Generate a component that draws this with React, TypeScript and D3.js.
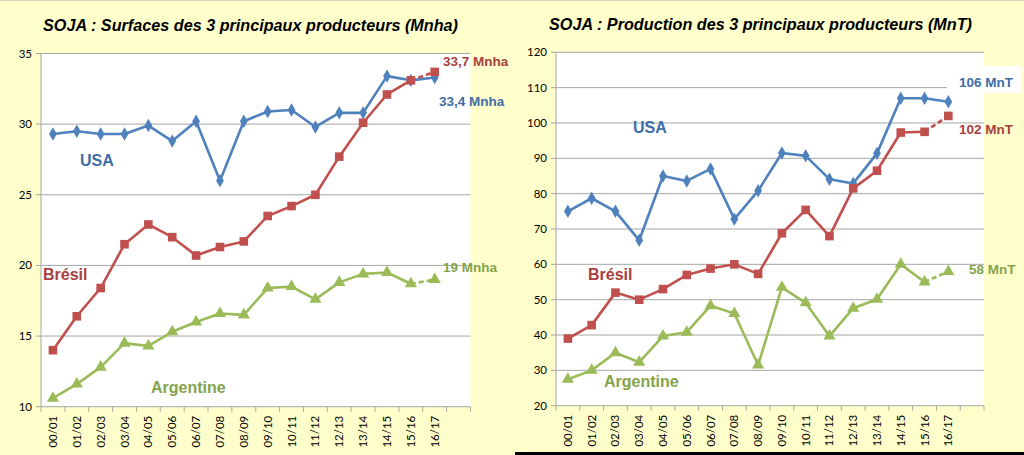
import React from "react";
import * as d3 from "d3";

const categories = ["00/01","01/02","02/03","03/04","04/05","05/06","06/07","07/08","08/09","09/10","10/11","11/12","12/13","13/14","14/15","15/16","16/17"];

const surfUSA = [29.3,29.5,29.3,29.3,29.9,28.8,30.2,26.0,30.2,30.9,31.0,29.8,30.8,30.8,33.4,33.1,33.3];
const surfBresil = [14.0,16.4,18.4,21.5,22.9,22.0,20.7,21.3,21.7,23.5,24.2,25.0,27.7,30.1,32.1,33.1,33.7];
const surfArgentine = [10.6,11.6,12.8,14.5,14.3,15.3,16.0,16.6,16.5,18.4,18.5,17.6,18.8,19.4,19.5,18.7,19.0];

const prodUSA = [75.0,78.7,75.0,66.8,85.0,83.6,87.0,72.8,80.8,91.5,90.7,84.1,82.9,91.4,107.0,107.0,106.0];
const prodBresil = [39.0,42.8,52.0,50.0,53.0,57.0,58.8,60.0,57.3,68.8,75.4,68.0,81.5,86.5,97.3,97.5,102.0];
const prodArgentine = [27.5,30.0,35.0,32.3,39.7,40.8,48.3,46.1,31.5,53.5,49.1,39.7,47.6,50.1,60.0,55.0,58.0];

const surfTicks = [10,15,20,25,30,35];
const prodTicks = [20,30,40,50,60,70,80,90,100,110,120];

const BLUE = "#4F81BD";
const RED = "#C0504D";
const GREEN = "#9BBB59";
const BLUE_T = "#3E6DA6";
const RED_T = "#A8403E";
const GREEN_T = "#85A34B";
const BG = "#FFFFCC";

type Label = { text: string; x: number; y: number; color: string; size: number };

type PanelProps = {
  title: string;
  titleX: number;
  titleY: number;
  x0: number;
  x1: number;
  y0: number;
  y1: number;
  domain: [number, number];
  ticks: number[];
  usa: number[];
  bresil: number[];
  argentine: number[];
  labels: Label[];
  box?: { x: number; y: number; w: number; h: number };
};

const SLOTS = 18;

function Panel(p: PanelProps) {
  const xb = d3.scaleBand<number>().domain(d3.range(SLOTS)).range([p.x0, p.x1]).paddingInner(0).paddingOuter(0);
  const bw = xb.bandwidth();
  const px = (i: number) => (xb(i) as number) + bw / 2;
  const y = d3.scaleLinear().domain(p.domain).range([p.y1, p.y0]);
  const line = d3.line<number>().x((_, i) => px(i)).y((v) => y(v));

  const series = [
    { data: p.usa, color: BLUE, sym: d3.symbolDiamond, size: 52, dashLast: false },
    { data: p.bresil, color: RED, sym: d3.symbolSquare, size: 74, dashLast: true },
    { data: p.argentine, color: GREEN, sym: d3.symbolTriangle, size: 64, dashLast: true },
  ];

  return (
    <g>
      <rect x={p.x0} y={p.y0} width={p.x1 - p.x0} height={p.y1 - p.y0} fill="#FFFFFF" />
      {p.ticks.map((t) => (
        <g key={t}>
          <line x1={p.x0 - 5} x2={p.x1} y1={y(t)} y2={y(t)} stroke="#A6A6A6" strokeWidth={1} />
          <text x={p.x0 - 9} y={y(t) + 4} textAnchor="end" fontFamily="Lato, 'Open Sans', sans-serif" fontSize={11.5} fill="#000">
            {t}
          </text>
        </g>
      ))}
      <line x1={p.x0} x2={p.x0} y1={p.y0} y2={p.y1} stroke="#A6A6A6" strokeWidth={1} />
      {d3.range(SLOTS + 1).map((i) => {
        const xx = p.x0 + i * bw;
        return <line key={i} x1={xx} x2={xx} y1={p.y1} y2={p.y1 + 5} stroke="#A6A6A6" strokeWidth={1} />;
      })}
      {categories.map((c, i) => (
        <text
          key={c}
          transform={`translate(${px(i) + 4},${p.y1 + 9}) rotate(-90)`}
          textAnchor="end"
          fontFamily="Lato, 'Open Sans', sans-serif"
          fontSize={11.5}
          fill="#000"
        >
          {c}
        </text>
      ))}
      {p.box && <rect x={p.box.x} y={p.box.y} width={p.box.w} height={p.box.h} fill="#FFFFFF" />}
      {series.map((s, si) => {
        const n = s.data.length;
        const solid = s.dashLast ? s.data.slice(0, n - 1) : s.data;
        return (
          <g key={si}>
            <path d={line(solid) || ""} fill="none" stroke={s.color} strokeWidth={2.6} strokeLinejoin="round" />
            {s.dashLast && (
              <line
                x1={px(n - 2)}
                y1={y(s.data[n - 2])}
                x2={px(n - 1)}
                y2={y(s.data[n - 1])}
                stroke={s.color}
                strokeWidth={2.6}
                strokeDasharray="5,3"
              />
            )}
            {s.data.map((v, i) => (
              <path
                key={i}
                d={d3.symbol().type(s.sym).size(s.size)() || ""}
                transform={`translate(${px(i)},${y(v)})`}
                fill={s.color}
              />
            ))}
          </g>
        );
      })}
      <text x={p.titleX} y={p.titleY} fontFamily="'Liberation Sans', Arial, sans-serif" fontWeight="bold" fontStyle="italic" fontSize={16.2} fill="#000">
        {p.title}
      </text>
      {p.labels.map((l, i) => (
        <text key={i} x={l.x} y={l.y} fontFamily="'Liberation Sans', Arial, sans-serif" fontWeight="bold" fontSize={l.size} fill={l.color}>
          {l.text}
        </text>
      ))}
    </g>
  );
}

export default function App() {
  return (
    <svg width={1024} height={455} style={{ position: "absolute", left: 0, top: 0 }}>
      <rect x={0} y={0} width={1024} height={455} fill={BG} />
      <line x1={0} x2={1024} y1={0.5} y2={0.5} stroke="#D8D8C0" />
      <Panel
        title="SOJA : Surfaces des 3 principaux producteurs (Mnha)"
        titleX={43}
        titleY={31}
        x0={41}
        x1={470.5}
        y0={53.5}
        y1={406.7}
        domain={[10, 35]}
        ticks={surfTicks}
        usa={surfUSA}
        bresil={surfBresil}
        argentine={surfArgentine}
        labels={[
          { text: "USA", x: 80, y: 166, color: BLUE_T, size: 16 },
          { text: "Brésil", x: 43, y: 280, color: RED_T, size: 16 },
          { text: "Argentine", x: 151, y: 393, color: GREEN_T, size: 16 },
          { text: "33,7 Mnha", x: 443, y: 66, color: RED_T, size: 13.5 },
          { text: "33,4 Mnha", x: 439, y: 106, color: BLUE_T, size: 13.5 },
          { text: "19 Mnha", x: 443, y: 272, color: GREEN_T, size: 13.5 },
        ]}
      />
      <Panel
        title="SOJA : Production des 3 principaux producteurs (MnT)"
        titleX={549}
        titleY={30}
        x0={556}
        x1={984}
        y0={52.3}
        y1={405.7}
        domain={[20, 120]}
        ticks={prodTicks}
        usa={prodUSA}
        bresil={prodBresil}
        argentine={prodArgentine}
        box={{ x: 947, y: 66, w: 74, h: 27 }}
        labels={[
          { text: "USA", x: 633, y: 133, color: BLUE_T, size: 16 },
          { text: "Brésil", x: 588, y: 280, color: RED_T, size: 16 },
          { text: "Argentine", x: 604, y: 387, color: GREEN_T, size: 16 },
          { text: "106 MnT", x: 959, y: 87, color: BLUE_T, size: 13.5 },
          { text: "102 MnT", x: 959, y: 134, color: RED_T, size: 13.5 },
          { text: "58 MnT", x: 969, y: 274, color: GREEN_T, size: 13.5 },
        ]}
      />
      <rect x={515} y={452} width={509} height={3} fill="#000" />
    </svg>
  );
}
